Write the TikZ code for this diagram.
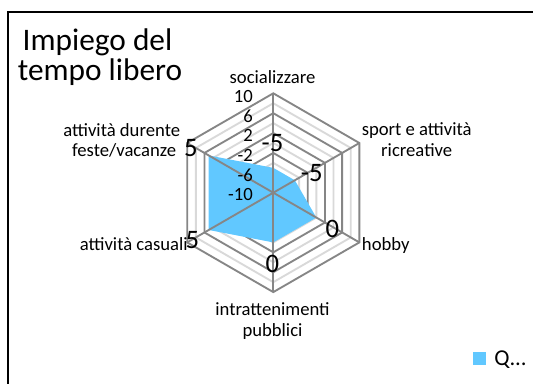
\documentclass[tikz,border=0pt]{standalone}
\usepackage{fontspec}
\setmainfont{Carlito}
\definecolor{gridmaj}{RGB}{134,134,134}
\definecolor{gridmin}{RGB}{217,217,217}
\definecolor{serieblue}{RGB}{97,200,255}
\begin{document}
\begin{tikzpicture}[x=0.75pt,y=-0.75pt,
  catlabel/.style={font=\fontsize{14}{16}\selectfont, inner sep=0pt},
  ticklabel/.style={font=\fontsize{14}{16}\selectfont, inner sep=0pt, anchor=east},
  datalabel/.style={font=\fontsize{20}{22}\selectfont, inner sep=0pt},
  titlelabel/.style={font=\fontsize{23.5}{28}\selectfont, inner sep=0pt, anchor=base},
  legendlabel/.style={font=\fontsize{17}{20}\selectfont, inner sep=0pt},
  majring/.style={draw=gridmaj, line width=1.4pt},
  minring/.style={draw=gridmin, line width=1.4pt},
  spoke/.style={draw=gridmaj, line width=1.4pt},
  frameline/.style={draw=black, line width=1.5pt}]
\useasboundingbox (0,0) rectangle (533,383);
\fill[white] (0,0) rectangle (533,383);
% frame (top and left edges)
\coordinate (fbl) at (7.7,384);
\coordinate (ftl) at (7.7,12);
\coordinate (ftr) at (534,12);
\draw[frameline] (fbl) -- (ftl) -- (ftr);
% title
\node[titlelabel] (t1) at (97.5,50) {Impiego del};
\node[titlelabel] (t2) at (100,80.7) {tempo libero};
% radar
\begin{scope}[shift={(273.3,192.7)}, yscale=-1]
  \coordinate (c) at (0,0);
  \foreach \k in {1,3,5,7,9} {
    \pgfmathsetmacro{\r}{\k*9.94}
    \draw[minring] (90:\r) -- (30:\r) -- (-30:\r) -- (-90:\r) -- (-150:\r) -- (150:\r) -- cycle;
  }
  \foreach \k in {2,4,6,8,10} {
    \pgfmathsetmacro{\r}{\k*9.94}
    \draw[majring] (90:\r) -- (30:\r) -- (-30:\r) -- (-90:\r) -- (-150:\r) -- (150:\r) -- cycle;
  }
  \fill[serieblue] (90:24.85) -- (30:24.85) -- (-30:49.7) -- (-90:49.7) -- (-150:74.55) -- (150:74.55) -- cycle;
  \foreach \a/\n in {90/v1,30/v2,-30/v3,-90/v4,-150/v5,150/v6} {
    \coordinate (\n) at (\a:99.4);
    \draw[spoke] (c) -- (\n);
  }
\end{scope}
% tick labels
\node[ticklabel] (k1) at (253,96.5) {10};
\node[ticklabel] (k2) at (253,116) {6};
\node[ticklabel] (k3) at (253,135.5) {2};
\node[ticklabel] (k4) at (253,155.5) {-2};
\node[ticklabel] (k5) at (253,175) {-6};
\node[ticklabel] (k6) at (253,194.5) {-10};
% category labels
\node[catlabel, anchor=base] (l1) at (272.5,83.3) {socializzare};
\node[catlabel, anchor=base] (l2a) at (416.7,135) {sport e attività};
\node[catlabel, anchor=base] (l2b) at (416.7,156.7) {ricreative};
\node[catlabel, anchor=base west] (l3) at (361.7,250) {hobby};
\node[catlabel, anchor=base] (l4a) at (272.5,315) {intrattenimenti};
\node[catlabel, anchor=base] (l4b) at (272.5,336.7) {pubblici};
\node[catlabel, anchor=base east] (l5) at (188,250) {attività casuali};
\node[catlabel, anchor=base] (l6a) at (121.7,136.7) {attività durente};
\node[catlabel, anchor=base] (l6b) at (124.2,156.7) {feste/vacanze};
% data labels
\node[datalabel] (d1) at (272.5,143) {-5};
\node[datalabel] (d2) at (311.7,173) {-5};
\node[datalabel] (d3) at (332.5,229) {0};
\node[datalabel] (d4) at (272.5,263.5) {0};
\node[datalabel] (d5) at (192.5,240) {5};
\node[datalabel] (d6) at (191,148) {5};
% legend
\fill[serieblue] (473,351.5) rectangle (486,364.5);
\node[legendlabel, anchor=base west] (lg) at (494,365.5) {Q...};
\end{tikzpicture}
\end{document}
